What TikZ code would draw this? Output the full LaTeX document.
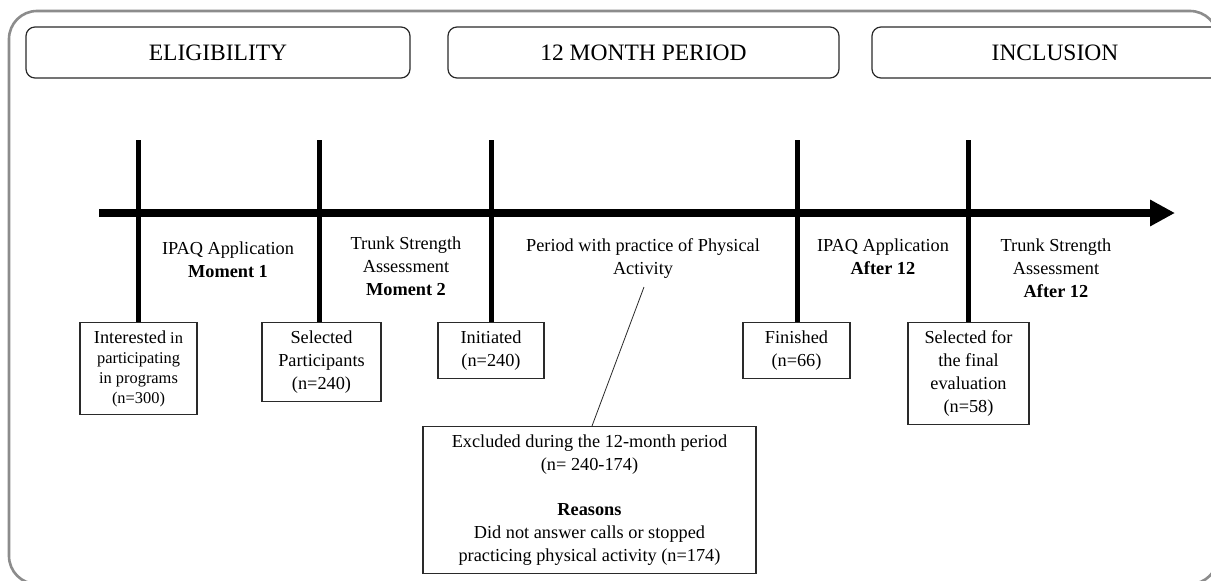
\documentclass[tikz,border=0pt]{standalone}
\usepackage{fontspec}
\setmainfont{Liberation Serif}
\usetikzlibrary{arrows.meta}
\definecolor{framegray}{HTML}{8C8C8C}
\definecolor{boxline}{HTML}{2A2A2A}
\begin{document}
\begin{tikzpicture}[x=1pt,y=-1pt,
  header/.style={draw=boxline, line width=1.2pt, rounded corners=9pt, minimum height=51pt, inner sep=0pt, font=\fontsize{23.5}{28}\selectfont},
  stagebox/.style={draw=boxline, line width=1.2pt, anchor=north, inner sep=0pt, align=center, font=\fontsize{18.3}{23}\selectfont},
  lbl/.style={align=center, inner sep=0pt, font=\fontsize{18.3}{23}\selectfont},
  tick/.style={line width=5pt, black},
  axis/.style={line width=8pt, black, -{Triangle[length=25pt,width=25pt]}},
  thinline/.style={line width=0.8pt, boxline}
]
\useasboundingbox (0,0) rectangle (1211,581);
\clip (0,0) rectangle (1211,581);
\fill[white] (0,0) rectangle (1211,581);
% outer frame
\draw[framegray, line width=2.6pt, rounded corners=28pt] (9,11) rectangle (1218,584);

% headers
\node[header, minimum width=384pt] (elig) at (218,52.5) {ELIGIBILITY};
\node[header, minimum width=391pt] (period12) at (643.5,52.5) {12 MONTH PERIOD};
\node[header, minimum width=366pt] (incl) at (1055,52.5) {INCLUSION};

% timeline
\coordinate (tl0) at (99,213);
\coordinate (tl1) at (1175,213);
\draw[axis] (tl0) -- (tl1);

% boxes
\node[stagebox, minimum width=117pt, minimum height=92pt, font=\fontsize{16.4}{20}\selectfont] (b1) at (138.5,322)
  {{\fontsize{18.3}{20}\selectfont Interested} in\\participating\\in programs\\(n=300)};
\node[stagebox, minimum width=119pt, minimum height=79pt] (b2) at (321.5,322)
  {Selected\\Participants\\(n=240)};
\node[stagebox, minimum width=106pt, minimum height=56pt] (b3) at (491,322)
  {Initiated\\(n=240)};
\node[stagebox, minimum width=107pt, minimum height=56pt] (b4) at (796.5,322)
  {Finished\\(n=66)};
\node[stagebox, minimum width=121pt, minimum height=102pt] (b5) at (968.5,322)
  {Selected for\\the final\\evaluation\\(n=58)};
\node[stagebox, minimum width=333pt, minimum height=147pt] (excl) at (589.5,426)
  {Excluded during the 12-month period\\(n= 240-174)\\[22pt]\textbf{Reasons}\\Did not answer calls or stopped\\practicing physical activity (n=174)};

% vertical ticks
\coordinate (t1) at (138.5,140);
\coordinate (t2) at (319,140);
\coordinate (t3) at (491,140);
\coordinate (t4) at (797.5,140);
\coordinate (t5) at (968.5,140);
\draw[tick] (t1) -- (b1.north);
\draw[tick] (t2) -- (t2 |- b2.north);
\draw[tick] (t3) -- (b3.north);
\draw[tick] (t4) -- (t4 |- b4.north);
\draw[tick] (t5) -- (b5.north);

% labels
\node[lbl] (l1) at (228,259.5) {IPAQ Application\\\textbf{Moment 1}};
\node[lbl] (l2) at (406,266) {Trunk Strength\\Assessment\\\textbf{Moment 2}};
\node[lbl] (l3) at (643,258.5) {Period with practice of Physical\\Activity};
\node[lbl] (l4) at (883,257) {IPAQ Application\\\textbf{After 12}};
\node[lbl] (l5) at (1056,268.5) {Trunk Strength\\Assessment\\\textbf{After 12}};

% connector
\coordinate (pend) at (644,287);
\draw[thinline] ([xshift=2.5pt]excl.north) -- (pend);
\end{tikzpicture}
\end{document}
